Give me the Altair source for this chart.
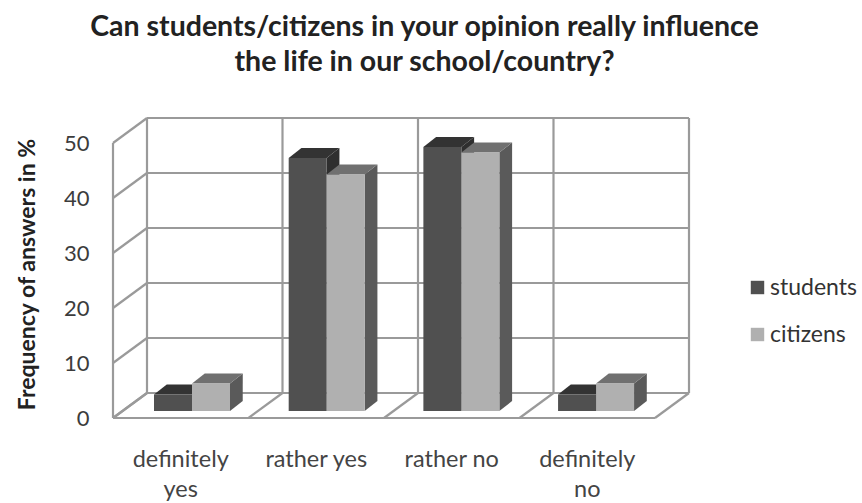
import altair as alt
import pandas as pd

categories = ["definitely yes", "rather yes", "rather no", "definitely no"]
label_line1 = ["definitely", "rather yes", "rather no", "definitely"]
label_line2 = ["yes", "", "", "no"]
students = [3, 46, 48, 3]
citizens = [5, 43, 47, 5]
y_ticks = [0, 10, 20, 30, 40, 50]

# Projection of the box, in axis units (one x unit is one category slot).
WALL_DX, WALL_DY = 34 / 135.5, 25 / 5.5
BAR_DX, BAR_DY = 0.094, 1.8
BAR_BASE = 7 / 5.5
BAR_START, BAR_STEP, BAR_W = 0.3026, 0.994, 0.2804
N = len(categories)
X_MAX, Y_MAX = 575 / 135.5, 300 / 5.5

x_scale = alt.Scale(domain=[0, X_MAX], nice=False, zero=False)
y_scale = alt.Scale(domain=[0, Y_MAX], nice=False, zero=False)

# Box edges: back wall, left wall and floor.
edges = []
def edge(x, y, x2, y2):
    edges.append({"x": x, "y": y, "x2": x2, "y2": y2})

for t in y_ticks:
    edge(0, t, WALL_DX, t + WALL_DY)
    edge(WALL_DX, t + WALL_DY, WALL_DX + N, t + WALL_DY)
for i in range(N + 1):
    edge(i, 0, i + WALL_DX, WALL_DY)
    edge(i + WALL_DX, WALL_DY, i + WALL_DX, 50 + WALL_DY)
edge(0, 0, 0, 50)
edge(0, 0, N, 0)
edges_df = pd.DataFrame(edges)

# Bar faces.
fronts, tops, sides = [], [], []
for s_idx, (name, values) in enumerate([("students", students), ("citizens", citizens)]):
    for i, v in enumerate(values):
        x0 = i * BAR_STEP + BAR_START + s_idx * BAR_W
        x1 = x0 + BAR_W
        top = BAR_BASE + v
        bar = f"{name}-{i}"
        fronts.append({"series": name, "x": x0, "x2": x1, "y": BAR_BASE, "y2": top})
        for px, lo, hi in [(x0, top, top), (x0 + BAR_DX, top, top + BAR_DY),
                           (x1, top, top + BAR_DY), (x1 + BAR_DX, top + BAR_DY, top + BAR_DY)]:
            tops.append({"series": name, "bar": bar, "x": px, "lo": lo, "hi": hi})
        for px, lo, hi in [(x1, BAR_BASE, top), (x1 + BAR_DX, BAR_BASE + BAR_DY, top + BAR_DY)]:
            sides.append({"series": name, "bar": bar, "x": px, "lo": lo, "hi": hi})
fronts_df, tops_df, sides_df = pd.DataFrame(fronts), pd.DataFrame(tops), pd.DataFrame(sides)

y_axis = alt.Axis(
    values=y_ticks, grid=False, domain=False, ticks=False, labelPadding=24,
    labelFont="Lato", labelFontSize=22, labelColor="#3c3c3c",
    titleFont="Lato", titleFontSize=23, titleFontWeight="bold", titleColor="#222222",
    titleX=-74, titleY=156,
)
AXIS_TITLE = "Frequency of answers in %"

X = alt.X("x:Q", scale=x_scale, axis=None)
Y = alt.Y("y:Q", scale=y_scale, title=AXIS_TITLE, axis=y_axis)
Y_LO = alt.Y("lo:Q", scale=y_scale, title=AXIS_TITLE, axis=y_axis)

grid = alt.Chart(edges_df).mark_rule(color="#9a9a9a", strokeWidth=2.2).encode(
    x=X, x2="x2:Q", y=Y, y2="y2:Q",
)

def face(df, series, color):
    return alt.Chart(df[df.series == series]).mark_area(color=color, opacity=1).encode(
        x=X, y=Y_LO, y2="hi:Q", detail="bar:N",
    )

front = alt.Chart(fronts_df).mark_rect().encode(
    x=X,
    x2="x2:Q",
    y=Y,
    y2="y2:Q",
    color=alt.Color(
        "series:N",
        scale=alt.Scale(domain=["students", "citizens"], range=["#505050", "#b0b0b0"]),
        legend=alt.Legend(
            title=None, orient="none", legendX=633, legendY=158, symbolType="square",
            symbolSize=180, symbolStrokeWidth=0, symbolOpacity=1, rowPadding=23,
            labelFont="Lato", labelFontSize=23, labelColor="#333333", labelOffset=1,
        ),
    ),
)

labels_df = pd.DataFrame({"x": [i + 0.5 for i in range(N)], "line1": label_line1, "line2": label_line2})
label1 = alt.Chart(labels_df).mark_text(font="Lato", fontSize=23.5, color="#444444", baseline="middle").encode(
    x=X, y=alt.value(342), text="line1:N")
label2 = alt.Chart(labels_df).mark_text(font="Lato", fontSize=23.5, color="#444444", baseline="middle").encode(
    x=X, y=alt.value(372), text="line2:N")

chart = alt.layer(
    grid,
    face(sides_df, "students", "#2f2f2f"),
    face(tops_df, "students", "#333333"),
    face(sides_df, "citizens", "#5a5a5a"),
    face(tops_df, "citizens", "#707070"),
    front,
    label1,
    label2,
).properties(
    width=575,
    height=300,
    padding={"left": 113, "top": 118, "right": 174, "bottom": 85},
    autosize=alt.AutoSizeParams(type="none"),
    background="white",
    title=alt.TitleParams(
        text=["Can students/citizens in your opinion really influence", "the life in our school/country?"],
        font="Lato", fontSize=28.5, fontWeight="bold", color="#222222",
        lineHeight=35, anchor="middle", dx=24, offset=40,
    ),
).configure_view(stroke=None)

chart.save("out.html", embed_options={"renderer": "svg", "actions": False})
